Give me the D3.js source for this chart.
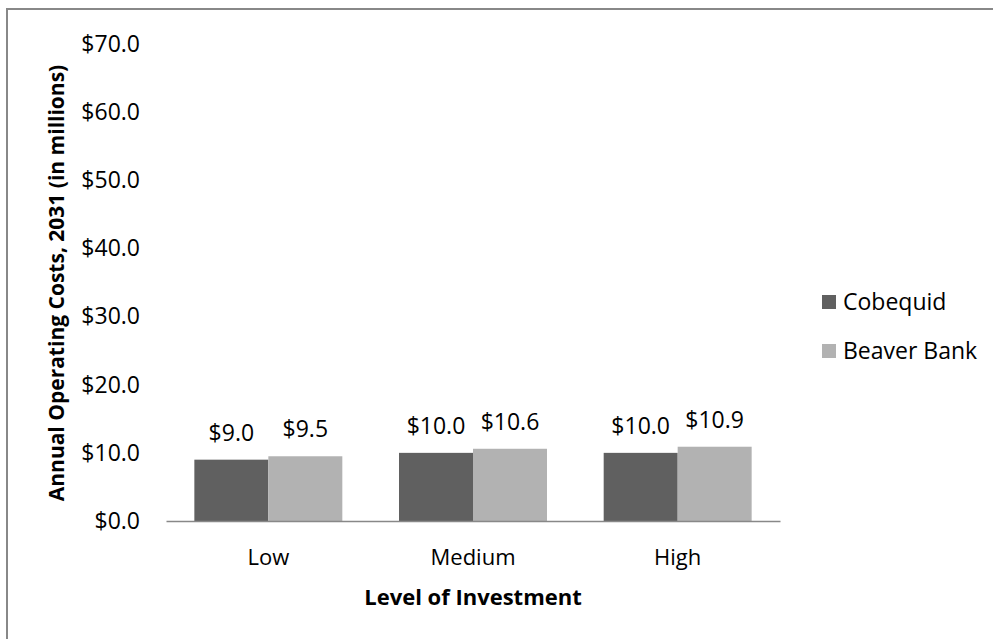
<!DOCTYPE html>
<html>
<head>
<meta charset="utf-8">
<script src="https://cdn.jsdelivr.net/npm/d3@7"></script>
<style>
  html, body { margin: 0; padding: 0; background: #fff; }
  svg { display: block; font-family: "Open Sans", "Liberation Sans", sans-serif; }
</style>
</head>
<body>
<svg id="chart" width="993" height="639"></svg>
<script>
// Annual operating costs (in millions) by level of investment
const categories = ["Low", "Medium", "High"];
const seriesNames = ["Cobequid", "Beaver Bank"];
const cobequid = [9.0, 10.0, 10.0];
const beaverBank = [9.5, 10.6, 10.9];
const yTicks = [0, 10, 20, 30, 40, 50, 60, 70];

const seriesValues = [cobequid, beaverBank];
const colors = ["#606060", "#b2b2b2"];

const svg = d3.select("#chart");
const W = 993, H = 639;

// outer frame
svg.append("path")
  .attr("d", `M7,${H + 5} V9 H${W + 5}`)
  .attr("fill", "none")
  .attr("stroke", "#888")
  .attr("stroke-width", 2);

const plot = { left: 166, right: 780, top: 44, bottom: 521 };

const x = d3.scaleBand()
  .domain(categories)
  .range([plot.left, plot.right])
  .paddingInner(0.277)
  .paddingOuter(0.1385);

const xs = d3.scaleBand()
  .domain(seriesNames)
  .range([0, x.bandwidth()]);

const y = d3.scaleLinear()
  .domain([0, 70])
  .range([plot.bottom, plot.top]);

const fmt = v => "$" + v.toFixed(1);

// y axis labels (no line, no ticks)
const yAxis = svg.append("g")
  .attr("transform", `translate(${plot.left - 26},0)`)
  .call(d3.axisLeft(y).tickValues(yTicks).tickFormat(fmt).tickSize(0).tickPadding(0));
yAxis.select(".domain").remove();
yAxis.selectAll("text")
  .attr("font-family", "Open Sans")
  .attr("font-size", 23)
  .attr("fill", "#000");

// bars
const rows = categories.map((c, i) => ({ cat: c, vals: seriesNames.map((s, j) => ({ s, j, v: seriesValues[j][i] })) }));

const groups = svg.append("g").selectAll("g")
  .data(rows)
  .join("g")
  .attr("transform", d => `translate(${x(d.cat)},0)`);

groups.selectAll("rect")
  .data(d => d.vals)
  .join("rect")
  .attr("x", d => xs(d.s))
  .attr("width", xs.bandwidth())
  .attr("y", d => y(d.v))
  .attr("height", d => y(0) - y(d.v))
  .attr("fill", d => colors[d.j]);

groups.selectAll("text.val")
  .data(d => d.vals)
  .join("text")
  .attr("class", "val")
  .attr("x", d => xs(d.s) + xs.bandwidth() / 2)
  .attr("y", d => y(d.v) - 19)
  .attr("text-anchor", "middle")
  .attr("font-size", 23)
  .attr("fill", "#000")
  .text(d => fmt(d.v));

// x axis
const xAxis = svg.append("g")
  .attr("transform", `translate(0,${plot.bottom})`)
  .call(d3.axisBottom(x).tickSize(0).tickPadding(28));
xAxis.select(".domain")
  .attr("stroke", "#888")
  .attr("stroke-width", 1.5);
xAxis.selectAll("text")
  .attr("font-family", "Open Sans")
  .attr("font-size", 22)
  .attr("fill", "#000");

// axis titles
svg.append("text")
  .attr("x", (plot.left + plot.right) / 2)
  .attr("y", 605)
  .attr("text-anchor", "middle")
  .attr("font-size", 22)
  .attr("font-weight", "bold")
  .text("Level of Investment");

svg.append("text")
  .attr("transform", `translate(64,283) rotate(-90)`)
  .attr("text-anchor", "middle")
  .attr("font-size", 21)
  .attr("font-weight", "bold")
  .text("Annual Operating Costs, 2031 (in millions)");

// legend
const legend = svg.append("g").selectAll("g")
  .data(seriesNames)
  .join("g")
  .attr("transform", (d, i) => `translate(822,${302 + i * 49})`);
legend.append("rect")
  .attr("x", 0).attr("y", -7)
  .attr("width", 14).attr("height", 14)
  .attr("fill", (d, i) => colors[i]);
legend.append("text")
  .attr("x", 21).attr("y", 0)
  .attr("dy", "0.35em")
  .attr("font-size", 23)
  .text(d => d);
</script>
</body>
</html>
